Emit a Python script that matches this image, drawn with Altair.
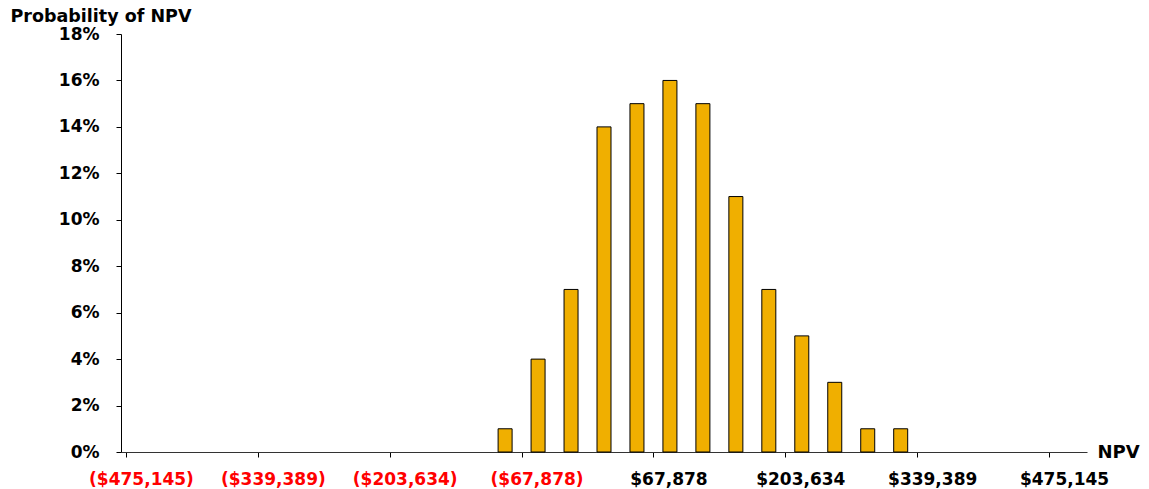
import altair as alt
import pandas as pd

# bin centres of NPV (dollars) and probabilities (%)
npv_centres = [-84847, -50908, -16970, 16970, 50908, 84847, 118786,
               152725, 186664, 220603, 254542, 288481, 322420]
probability_pct = [1, 4, 7, 14, 15, 16, 15, 11, 7, 5, 3, 1, 1]
x_ticks = [-475145, -339389, -203634, -67878, 67878, 203634, 339389, 475145]
x_domain = [-475145, 509084]
y_ticks = [0, 0.02, 0.04, 0.06, 0.08, 0.10, 0.12, 0.14, 0.16, 0.18]

df = pd.DataFrame({
    "npv": npv_centres,
    "prob": [p / 100 for p in probability_pct],
})

FONT = "DejaVu Sans"

chart = alt.Chart(df).mark_bar(
    size=14, color="#F0AF00", stroke="black", strokeWidth=1
).encode(
    x=alt.X(
        "npv:Q",
        scale=alt.Scale(domain=x_domain, nice=False, zero=False),
        axis=alt.Axis(
            values=x_ticks,
            labelExpr="datum.value < 0 ? '($' + format(-datum.value, ',') + ')' : '$' + format(datum.value, ',')",
            labelColor={"condition": {"test": "datum.value < 0", "value": "#FF0000"}, "value": "black"},
            labelFont=FONT, labelFontSize=17, labelFontWeight="bold",
            labelOffset=15, labelPadding=14, labelFlush=False, labelOverlap=False,
            tickSize=5, tickColor="black", domainColor="#333333",
            grid=False,
            title="NPV", titleFont=FONT, titleFontSize=18, titleFontWeight="bold",
            titleAngle=0, titleAlign="left", titleBaseline="middle",
            titleX=976, titleY=0, titleColor="black",
        ),
    ),
    y=alt.Y(
        "prob:Q",
        scale=alt.Scale(domain=[0, 0.18], nice=False),
        axis=alt.Axis(
            values=y_ticks, format=".0%",
            labelFont=FONT, labelFontSize=17, labelFontWeight="bold", labelColor="black",
            labelPadding=17, tickSize=5, tickColor="black", domainColor="black",
            grid=False,
            title="Probability of NPV", titleFont=FONT, titleFontSize=17.5, titleFontWeight="bold",
            titleAngle=0, titleAlign="left", titleBaseline="alphabetic",
            titleX=-111, titleY=-13, titleColor="black",
        ),
    ),
).properties(
    width=966, height=418,
    background="white",
    padding={"left": 121, "top": 34, "right": 62, "bottom": 37},
    autosize=alt.AutoSizeParams(type="none"),
).configure_view(stroke=None)

chart.save("out.html", embed_options={"renderer": "svg", "actions": False})
